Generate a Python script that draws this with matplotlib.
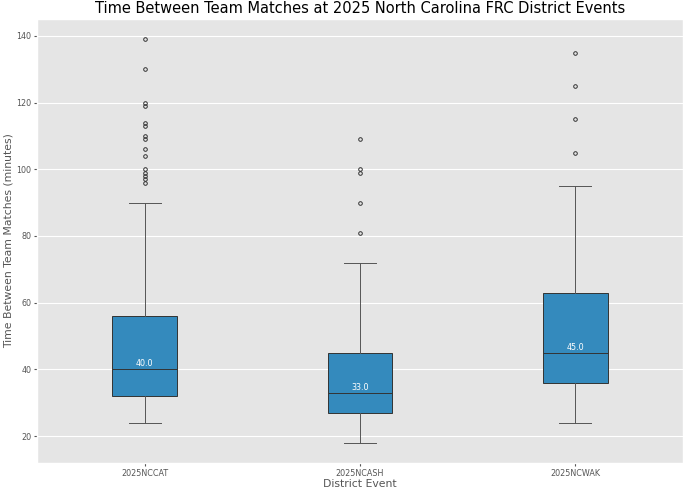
import matplotlib
matplotlib.use("Agg")
import matplotlib.pyplot as plt

plt.style.use("ggplot")

events = ["2025NCCAT", "2025NCASH", "2025NCWAK"]
whislo = [24, 18, 24]
q1 = [32, 27, 36]
med = [40, 33, 45]
q3 = [56, 45, 63]
whishi = [90, 72, 95]
fliers = [
    [139, 130, 120, 119, 114, 113, 110, 109, 106, 104, 100, 99, 98, 97, 96],
    [109, 100, 99, 90, 81],
    [135, 125, 115, 105],
]

stats = []
for i, name in enumerate(events):
    stats.append(dict(label=name, whislo=whislo[i], q1=q1[i], med=med[i],
                      q3=q3[i], whishi=whishi[i], fliers=fliers[i]))

fig = plt.figure(figsize=(6.9, 4.92), dpi=100)
ax = fig.add_axes([37/690, 1 - 463/492, 646/690, 444/492])

ax.bxp(stats, positions=[1, 2, 3], widths=0.3, patch_artist=True,
       boxprops=dict(facecolor="#348ABD", edgecolor="#333333", linewidth=0.7),
       medianprops=dict(color="#333333", linewidth=0.7),
       whiskerprops=dict(color="#555555", linewidth=0.7),
       capprops=dict(color="#555555", linewidth=0.7),
       flierprops=dict(marker="o", markersize=2.6, markerfacecolor="none",
                       markeredgecolor="#333333", markeredgewidth=0.7))

for i, m in enumerate(med):
    ax.text(i + 1, m + 0.3, f"{m:.1f}", ha="center", va="bottom",
            color="white", fontsize=5.8)

ax.set_xlim(0.5, 3.5)
ax.set_ylim(11.95, 145.05)
ax.set_yticks([20, 40, 60, 80, 100, 120, 140])
ax.tick_params(axis="x", labelsize=5.8, pad=2, length=2)
ax.tick_params(axis="y", labelsize=5.8, pad=2, length=2)
ax.grid(axis="x", visible=False)
ax.set_xlabel("District Event", fontsize=7.8, labelpad=1)
ax.set_ylabel("Time Between Team Matches (minutes)", fontsize=7.8, labelpad=2)
ax.set_title("Time Between Team Matches at 2025 North Carolina FRC District Events",
             fontsize=10.5, color="black", pad=4)

fig.savefig("out.png", dpi=100)
